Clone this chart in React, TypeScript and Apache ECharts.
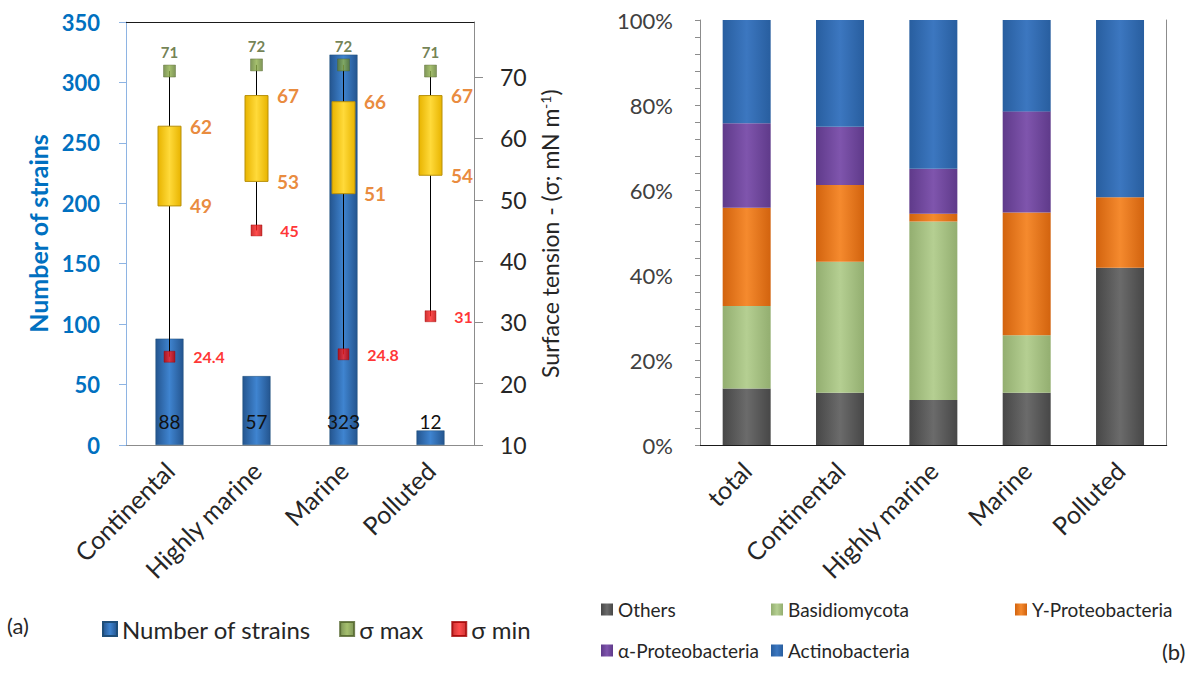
import React, { useEffect, useRef } from 'react';
import * as echarts from 'echarts';

// ---------- Panel (a) data ----------
const regions = ['Continental', 'Highly marine', 'Marine', 'Polluted'];
const strainCounts = [88, 57, 323, 12];
const sigmaMax = [71, 72, 72, 71];
const sigmaMin = [24.4, 45, 24.8, 31];
const boxHigh = [62, 67, 66, 67];
const boxLow = [49, 53, 51, 54];
const strainAxis = { min: 0, max: 350, interval: 50 };
const tensionAxis = { min: 10, max: 79, interval: 10 };

// ---------- Panel (b) data (percent of strains) ----------
const groups = ['total', 'Continental', 'Highly marine', 'Marine', 'Polluted'];
const others = [13.3, 12.3, 10.6, 12.3, 41.7];
const basidiomycota = [19.4, 30.8, 42.0, 13.5, 0];
const gammaProteobacteria = [23.1, 18.1, 1.8, 28.9, 16.6];
const alphaProteobacteria = [19.9, 13.7, 10.6, 23.8, 0];
const actinobacteria = [24.3, 25.1, 35.0, 21.5, 41.7];
const percentAxis = { min: 0, max: 100, interval: 20 };

const FONT = 'Lato, "Open Sans", sans-serif';

const hgrad = (edge: string, mid: string) =>
  new echarts.graphic.LinearGradient(0, 0, 1, 0, [
    { offset: 0, color: edge },
    { offset: 0.5, color: mid },
    { offset: 1, color: edge },
  ]);

export default function App() {
  const ref = useRef<HTMLDivElement>(null);

  useEffect(() => {
    if (!ref.current) return;
    const chart = echarts.init(ref.current, undefined, { renderer: 'svg' });

    const boxFill = hgrad('#E8B400', '#FFDA3A');

    const renderWhiskerBox = (params: any, api: any) => {
      const x = api.value(0);
      const lo = api.coord([x, api.value(1)]);
      const hi = api.coord([x, api.value(2)]);
      const bl = api.coord([x, api.value(3)]);
      const bh = api.coord([x, api.value(4)]);
      const w = 23;
      return {
        type: 'group',
        children: [
          {
            type: 'line',
            shape: { x1: lo[0], y1: lo[1], x2: hi[0], y2: hi[1] },
            style: { stroke: '#000', lineWidth: 1 },
          },
          {
            type: 'rect',
            shape: { x: bh[0] - w / 2, y: bh[1], width: w, height: bl[1] - bh[1] },
            style: { fill: boxFill, stroke: '#B8900A', lineWidth: 1 },
          },
        ],
      };
    };

    const axisGray = '#8c8c8c';
    const catLabel = {
      rotate: 45,
      fontSize: 25,
      color: '#262626',
      margin: 21,
      interval: 0,
      fontFamily: FONT,
    };

    const stackSeries = (name: string, data: number[], edge: string, mid: string) => ({
      name,
      type: 'bar',
      stack: 'taxa',
      xAxisIndex: 2,
      yAxisIndex: 2,
      barWidth: 48,
      data,
      itemStyle: { color: hgrad(edge, mid) },
    });

    const rightLegend = (data: string[], left: number) => ({
      data,
      orient: 'vertical',
      left,
      top: 595,
      itemWidth: 12,
      itemHeight: 12,
      itemGap: 22,
      icon: 'rect',
      textStyle: { fontSize: 19, color: '#262626', fontFamily: FONT },
    });

    const option: any = {
      animation: false,
      textStyle: { fontFamily: FONT },
      grid: [
        { left: 126, top: 22, width: 348, height: 423 },
        { left: 700, top: 20, width: 466.7, height: 425 },
      ],
      xAxis: [
        {
          type: 'category',
          gridIndex: 0,
          data: regions,
          axisLine: { lineStyle: { color: axisGray } },
          axisTick: { length: 10, lineStyle: { color: axisGray } },
          axisLabel: catLabel,
        },
        {
          type: 'category',
          gridIndex: 0,
          position: 'top',
          data: regions,
          axisLine: { lineStyle: { color: '#1a1a1a' } },
          axisTick: { show: false },
          axisLabel: { show: false },
        },
        {
          type: 'category',
          gridIndex: 1,
          data: groups,
          axisLine: { lineStyle: { color: axisGray } },
          axisTick: { length: 8, lineStyle: { color: axisGray } },
          axisLabel: catLabel,
        },
        {
          type: 'category',
          gridIndex: 1,
          position: 'top',
          data: groups,
          axisLine: { lineStyle: { color: '#1a1a1a' } },
          axisTick: { show: false },
          axisLabel: { show: false },
        },
      ],
      yAxis: [
        {
          type: 'value',
          gridIndex: 0,
          position: 'left',
          min: strainAxis.min,
          max: strainAxis.max,
          interval: strainAxis.interval,
          axisLine: { show: true, lineStyle: { color: '#8EB4E3' } },
          axisTick: { show: true, length: 7, lineStyle: { color: '#8EB4E3' } },
          axisLabel: { color: '#0070C0', fontWeight: 'bold', fontSize: 22, margin: 26 },
          splitLine: { show: false },
          name: 'Number of strains',
          nameLocation: 'middle',
          nameGap: 76,
          nameTextStyle: { color: '#0070C0', fontWeight: 'bold', fontSize: 25 },
        },
        {
          type: 'value',
          gridIndex: 0,
          position: 'right',
          min: tensionAxis.min,
          max: tensionAxis.max,
          interval: tensionAxis.interval,
          axisLine: { show: true, lineStyle: { color: axisGray } },
          axisTick: { show: true, length: 9, lineStyle: { color: axisGray } },
          axisLabel: { color: '#262626', fontSize: 23, margin: 26, showMaxLabel: false },
          splitLine: { show: false },
          name: 'Surface tension - (σ; mN m{sup|-1})',
          nameLocation: 'middle',
          nameGap: 64,
          nameTextStyle: {
            color: '#262626',
            fontSize: 23,
            rich: { sup: { fontSize: 14, color: '#262626', verticalAlign: 'top', padding: [0, 0, 8, 0] } },
          },
        },
        {
          type: 'value',
          gridIndex: 1,
          min: percentAxis.min,
          max: percentAxis.max,
          interval: percentAxis.interval,
          axisLine: { show: true, lineStyle: { color: axisGray } },
          axisTick: { show: true, length: 5, lineStyle: { color: axisGray } },
          minorTick: { show: true, splitNumber: 5, length: 5, lineStyle: { color: axisGray } },
          axisLabel: { formatter: '{value}%', fontSize: 22, color: '#404040', margin: 27 },
          splitLine: { show: false },
          minorSplitLine: { show: false },
        },
        {
          type: 'value',
          gridIndex: 1,
          position: 'right',
          min: percentAxis.min,
          max: percentAxis.max,
          axisLine: { show: true, lineStyle: { color: axisGray } },
          axisTick: { show: false },
          axisLabel: { show: false },
          splitLine: { show: false },
        },
      ],
      legend: [
        {
          data: ['Number of strains', 'σ max', 'σ min'],
          left: 97,
          top: 612,
          itemWidth: 14,
          itemHeight: 14,
          itemGap: 28,
          icon: 'rect',
          textStyle: { fontSize: 24, color: '#262626', fontFamily: FONT },
        },
        rightLegend(['Others', 'α-Proteobacteria'], 596),
        rightLegend(['Basidiomycota', 'Actinobacteria'], 766),
        rightLegend(['Υ-Proteobacteria'], 1010),
      ],
      graphic: [
        { type: 'text', left: 7, top: 614, style: { text: '(a)', fontSize: 22, fill: '#262626', fontFamily: FONT } },
        { type: 'text', left: 1162, top: 640, style: { text: '(b)', fontSize: 22, fill: '#262626', fontFamily: FONT } },
      ],
      series: [
        {
          name: 'Number of strains',
          type: 'bar',
          xAxisIndex: 0,
          yAxisIndex: 0,
          data: strainCounts,
          barWidth: 28,
          itemStyle: { color: hgrad('#24558F', '#3F84D0'), borderColor: '#1F4E79', borderWidth: 0.5 },
          label: { show: true, position: 'insideBottom', distance: 14, color: '#111', fontSize: 19 },
          z: 2,
        },
        {
          name: 'range',
          type: 'custom',
          xAxisIndex: 0,
          yAxisIndex: 1,
          renderItem: renderWhiskerBox,
          data: regions.map((_, i) => [i, sigmaMin[i], sigmaMax[i], boxLow[i], boxHigh[i]]),
          encode: { x: 0, y: [1, 2, 3, 4] },
          z: 3,
        },
        {
          name: 'box high',
          type: 'scatter',
          xAxisIndex: 0,
          yAxisIndex: 1,
          data: boxHigh,
          symbolSize: 1,
          itemStyle: { color: 'rgba(0,0,0,0)' },
          label: { show: true, position: 'right', distance: 20, color: '#E46C0A', fontWeight: 'bold', fontSize: 19 },
          z: 4,
        },
        {
          name: 'box low',
          type: 'scatter',
          xAxisIndex: 0,
          yAxisIndex: 1,
          data: boxLow,
          symbolSize: 1,
          itemStyle: { color: 'rgba(0,0,0,0)' },
          label: { show: true, position: 'right', distance: 20, color: '#E46C0A', fontWeight: 'bold', fontSize: 19 },
          z: 4,
        },
        {
          name: 'σ max',
          type: 'scatter',
          xAxisIndex: 0,
          yAxisIndex: 1,
          data: sigmaMax,
          symbol: 'rect',
          symbolSize: 12,
          itemStyle: { color: hgrad('#5E7A2E', '#8FB04A'), borderColor: '#4F6228', borderWidth: 0.5 },
          label: { show: true, position: 'top', distance: 5, color: '#4F6228', fontWeight: 'bold', fontSize: 15 },
          z: 5,
        },
        {
          name: 'σ min',
          type: 'scatter',
          xAxisIndex: 0,
          yAxisIndex: 1,
          data: sigmaMin,
          symbol: 'rect',
          symbolSize: 11,
          itemStyle: { color: hgrad('#C00000', '#FF2020'), borderColor: '#A00000', borderWidth: 0.5 },
          label: { show: true, position: 'right', distance: 18, color: '#FF0000', fontWeight: 'bold', fontSize: 16 },
          z: 5,
        },
        stackSeries('Others', others, '#474747', '#6B6B6B'),
        stackSeries('Basidiomycota', basidiomycota, '#93AE70', '#B5CF92'),
        stackSeries('Υ-Proteobacteria', gammaProteobacteria, '#D2630E', '#F58A2E'),
        stackSeries('α-Proteobacteria', alphaProteobacteria, '#5F3A8A', '#7F55AD'),
        stackSeries('Actinobacteria', actinobacteria, '#285E9F', '#3C77C0'),
      ],
    };

    chart.setOption(option);
    return () => chart.dispose();
  }, []);

  return (
    <div
      ref={ref}
      style={{ position: 'fixed', left: 0, top: 0, width: 1193, height: 673, background: '#fff' }}
    />
  );
}
